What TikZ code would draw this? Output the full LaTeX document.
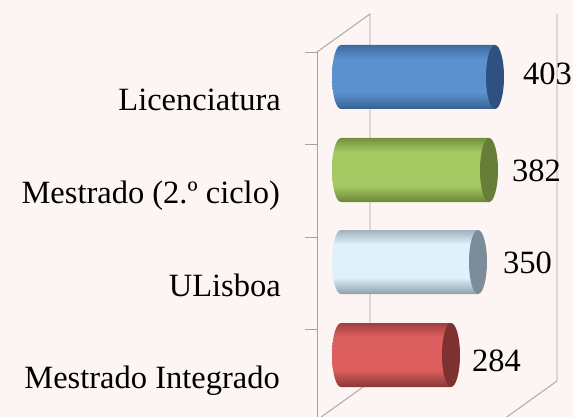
\documentclass[tikz,border=0pt]{standalone}
\usepackage{fontspec}
\setmainfont{Liberation Serif}
\definecolor{bg}{HTML}{FDF5F3}
\definecolor{gridc}{HTML}{A8A2A0}
\definecolor{bluetop}{HTML}{3F69A0}\definecolor{bluemid}{HTML}{5C91CE}\definecolor{bluebot}{HTML}{38608F}\definecolor{bluecap}{HTML}{2F5182}
\definecolor{greentop}{HTML}{738F3E}\definecolor{greenmid}{HTML}{A6CA63}\definecolor{greenbot}{HTML}{6A8637}\definecolor{greencap}{HTML}{677E38}
\definecolor{lbtop}{HTML}{9FB2BE}\definecolor{lbmid}{HTML}{DFF1FB}\definecolor{lbbot}{HTML}{8C9FAB}\definecolor{lbcap}{HTML}{7C8C9A}
\definecolor{redtop}{HTML}{9E4040}\definecolor{redmid}{HTML}{DC5E5E}\definecolor{redbot}{HTML}{883636}\definecolor{redcap}{HTML}{7E3131}
\pgfdeclareverticalshading{blueshade}{100bp}{color(0bp)=(bluebot); color(25bp)=(bluebot); color(38bp)=(bluemid); color(64bp)=(bluemid); color(75bp)=(bluetop); color(100bp)=(bluetop)}
\pgfdeclareverticalshading{greenshade}{100bp}{color(0bp)=(greenbot); color(25bp)=(greenbot); color(38bp)=(greenmid); color(64bp)=(greenmid); color(75bp)=(greentop); color(100bp)=(greentop)}
\pgfdeclareverticalshading{lbshade}{100bp}{color(0bp)=(lbbot); color(25bp)=(lbbot); color(38bp)=(lbmid); color(64bp)=(lbmid); color(75bp)=(lbtop); color(100bp)=(lbtop)}
\pgfdeclareverticalshading{redshade}{100bp}{color(0bp)=(redbot); color(25bp)=(redbot); color(38bp)=(redmid); color(64bp)=(redmid); color(75bp)=(redtop); color(100bp)=(redtop)}
\tikzset{
  gridline/.style={draw=gridc, line width=0.9pt},
  catlabel/.style={anchor=base east, inner sep=0pt, font=\fontsize{32.5}{38}\selectfont},
  vallabel/.style={anchor=base west, inner sep=0pt, font=\fontsize{32.5}{38}\selectfont},
}
\newcommand{\cylbar}[3]{% #1 right-cap x, #2 center y, #3 shading
  \path[shading=#3, shading angle=0]
    (#1,#2-32) -- (341,#2-32) arc (90:270:9pt and 32pt) -- (#1,#2+32) -- cycle;
}
\begin{document}
\begin{tikzpicture}[x={(1pt,0)}, y={(0,-1pt)}]
\fill[bg] (0,0) rectangle (573,417);
\useasboundingbox (0,0) rectangle (573,417);
% box corners
\coordinate (FTL) at (317,52);
\coordinate (FBL) at (317,420);
\coordinate (BTL) at (370,14);
\coordinate (BBL) at (370,382);
\coordinate (BTR) at (557,14);
\coordinate (BBR) at (557,381);
\coordinate (FBR) at (504,419);
\draw[gridline] (FTL) -- (FBL);
\draw[gridline] (FTL) -- (BTL) -- (BBL);
\draw[gridline] (BTR) -- (BBR) -- (FBR);
\draw[gridline] (BBL) -- (FBL);
% ticks
\foreach \y [count=\i] in {52,144,237,329} {
  \coordinate (t\i) at (317,\y);
  \coordinate (tt\i) at (305,\y);
  \draw[gridline] (tt\i) -- (t\i);
}
% bars
\cylbar{495}{77}{blueshade}
\fill[bluecap] (495,77) ellipse [x radius=9pt, y radius=32pt];
\cylbar{489}{170}{greenshade}
\fill[greencap] (489,170) ellipse [x radius=9pt, y radius=32pt];
\cylbar{478}{262}{lbshade}
\fill[lbcap] (478,262) ellipse [x radius=9pt, y radius=32pt];
\cylbar{451}{355}{redshade}
\fill[redcap] (451,355) ellipse [x radius=9pt, y radius=32pt];
% category labels
\node[catlabel] (l1) at (281,111) {Licenciatura};
\node[catlabel] (l2) at (280,203) {Mestrado (2.º ciclo)};
\node[catlabel] (l3) at (281,296) {ULisboa};
\node[catlabel] (l4) at (280,388) {Mestrado Integrado};
% value labels
\node[vallabel] (v1) at (523,85) {403};
\node[vallabel] (v2) at (512,182) {382};
\node[vallabel] (v3) at (503,273) {350};
\node[vallabel] (v4) at (472,371) {284};
\end{tikzpicture}
\end{document}
